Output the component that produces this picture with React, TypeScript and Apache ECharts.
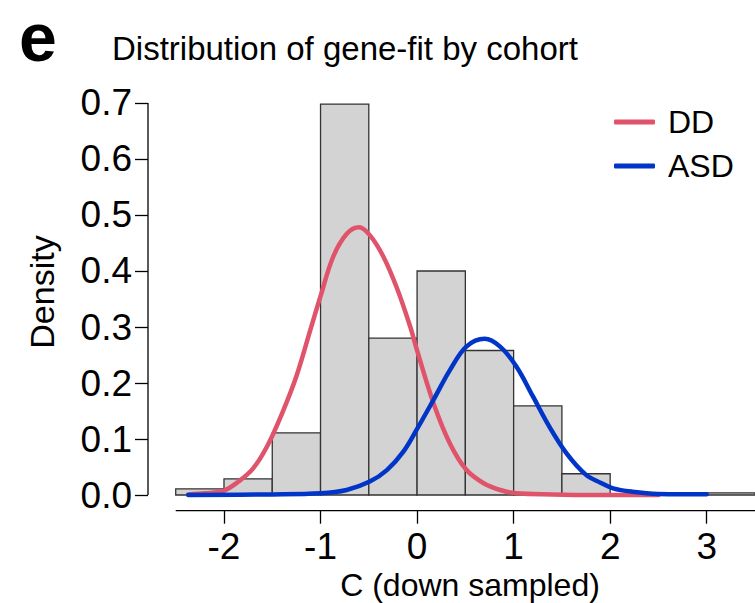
import React, { useEffect, useRef } from "react";
import * as echarts from "echarts";

// Histogram bins (left edges, width 0.5) and densities
const binStarts = [-2.5, -2, -1.5, -1, -0.5, 0, 0.5, 1, 1.5, 2, 2.5, 3];
const binWidth = 0.5;
const binDensity = [0.011, 0.029, 0.111, 0.698, 0.28, 0.4, 0.258, 0.159, 0.038, 0, 0, 0.004];

// DD density curve
const ddX = [-2.37, -2.2, -2.0, -1.85, -1.7, -1.55, -1.4, -1.25, -1.1, -1.0, -0.87, -0.73, -0.6, -0.49, -0.35, -0.21, -0.07, 0.0, 0.17, 0.34, 0.51, 0.69, 0.86, 1.03, 1.4, 1.8, 2.2, 2.5];
const ddY = [0.001, 0.003, 0.008, 0.024, 0.047, 0.088, 0.145, 0.212, 0.298, 0.355, 0.425, 0.466, 0.478, 0.464, 0.426, 0.37, 0.3, 0.258, 0.164, 0.092, 0.045, 0.021, 0.009, 0.003, 0.001, 0, 0, 0];

// ASD density curve
const asdX = [-2.37, -1.5, -1.0, -0.73, -0.49, -0.31, -0.14, 0.0, 0.17, 0.34, 0.51, 0.7, 0.86, 1.03, 1.2, 1.37, 1.55, 1.75, 1.9, 2.03, 2.23, 2.5, 2.75, 3.0];
const asdY = [0.0, 0.001, 0.003, 0.009, 0.024, 0.045, 0.078, 0.118, 0.17, 0.223, 0.265, 0.279, 0.265, 0.229, 0.176, 0.122, 0.074, 0.036, 0.022, 0.012, 0.006, 0.002, 0.0015, 0.0015];

const xTicks = [-2, -1, 0, 1, 2, 3];
const yTicks = [0, 0.1, 0.2, 0.3, 0.4, 0.5, 0.6, 0.7];
const xAxisSpan = [-2.5, 3.5];
const yAxisSpan = [0, 0.7];

const X_MIN = -2.787;
const X_MAX = 3.5;
const Y_MIN = -0.028;
const Y_MAX = 0.728;

const FONT = "'Liberation Sans', Arial, Helvetica, sans-serif";
const RED = "#DF536B";
const BLUE = "#0035C8";
const TICK_FONT = 37;

export default function App() {
  const ref = useRef<HTMLDivElement>(null);
  useEffect(() => {
    if (!ref.current) return;
    const chart = echarts.init(ref.current, undefined, { renderer: "svg" });
    const histData = binStarts.map((s, i) => [s, s + binWidth, binDensity[i]]);
    chart.setOption({
      animation: false,
      backgroundColor: "#ffffff",
      textStyle: { fontFamily: FONT },
      grid: { left: 148, right: 0, top: 87.3, bottom: 92.3, containLabel: false },
      xAxis: {
        type: "value",
        min: X_MIN,
        max: X_MAX,
        axisLine: { show: false, onZero: false },
        splitLine: { show: false },
        axisTick: {
          show: true,
          customValues: xTicks,
          length: 13,
          lineStyle: { color: "#000", width: 1.3 },
        },
        axisLabel: {
          customValues: xTicks,
          fontSize: TICK_FONT,
          lineHeight: 30,
          color: "#000",
          fontFamily: FONT,
          margin: 21,
          formatter: (v: number) => String(v),
        },
      },
      yAxis: {
        type: "value",
        min: Y_MIN,
        max: Y_MAX,
        axisLine: { show: false, onZero: false },
        splitLine: { show: false },
        axisTick: {
          show: true,
          customValues: yTicks,
          length: 13,
          lineStyle: { color: "#000", width: 1.3 },
        },
        axisLabel: {
          customValues: yTicks,
          fontSize: TICK_FONT,
          lineHeight: 30,
          color: "#000",
          fontFamily: FONT,
          margin: 16,
          formatter: (v: number) => v.toFixed(1),
        },
      },
      legend: {
        orient: "vertical",
        left: 614,
        top: 106,
        itemWidth: 41,
        itemHeight: 5,
        itemGap: 12,
        icon: "roundRect",
        padding: 0,
        data: ["DD", "ASD"],
        textStyle: { fontSize: 32, color: "#000", fontFamily: FONT, lineHeight: 32, padding: [0, 0, 0, 8] },
      },
      graphic: [
        {
          type: "text",
          x: 19,
          y: 37,
          style: { text: "e", fontSize: 68, fontWeight: "bold", fontFamily: FONT, fill: "#000", verticalAlign: "middle" },
        },
        {
          type: "text",
          x: 112,
          y: 48,
          style: { text: "Distribution of gene-fit by cohort", fontSize: 33, fontFamily: FONT, fill: "#000", verticalAlign: "middle" },
        },
        {
          type: "text",
          x: 470,
          y: 585,
          style: { text: "C (down sampled)", fontSize: 32, lineHeight: 30, fontFamily: FONT, fill: "#000", align: "center", verticalAlign: "middle" },
        },
        {
          type: "text",
          x: 42,
          y: 292,
          rotation: Math.PI / 2,
          style: { text: "Density", fontSize: 34, fontFamily: FONT, fill: "#000", align: "center", verticalAlign: "middle" },
        },
      ],
      series: [
        {
          type: "custom",
          name: "hist",
          silent: true,
          clip: false,
          encode: { x: [0, 1], y: 2 },
          data: histData,
          renderItem: (params: any, api: any) => {
            const p0 = api.coord([api.value(0), api.value(2)]);
            const p1 = api.coord([api.value(1), 0]);
            return {
              type: "rect",
              shape: { x: p0[0], y: p0[1], width: p1[0] - p0[0], height: p1[1] - p0[1] },
              style: { fill: "#D3D3D3", stroke: "#333333", lineWidth: 1.3 },
            };
          },
          z: 1,
        },
        {
          type: "line",
          name: "xAxisLine",
          silent: true,
          clip: false,
          symbol: "none",
          data: [[xAxisSpan[0], Y_MIN], [xAxisSpan[1], Y_MIN]],
          lineStyle: { color: "#000", width: 1.3 },
          z: 1,
        },
        {
          type: "line",
          name: "yAxisLine",
          silent: true,
          clip: false,
          symbol: "none",
          data: [[X_MIN, yAxisSpan[0]], [X_MIN, yAxisSpan[1]]],
          lineStyle: { color: "#000", width: 1.3 },
          z: 1,
        },
        {
          type: "line",
          name: "DD",
          color: RED,
          symbol: "none",
          smooth: 0.35,
          clip: false,
          data: ddX.map((x, i) => [x, ddY[i]]),
          lineStyle: { color: RED, width: 4.5, cap: "round" },
          z: 3,
        },
        {
          type: "line",
          name: "ASD",
          color: BLUE,
          symbol: "none",
          smooth: 0.35,
          clip: false,
          data: asdX.map((x, i) => [x, asdY[i]]),
          lineStyle: { color: BLUE, width: 4.5, cap: "round" },
          z: 4,
        },
      ],
    });
    return () => chart.dispose();
  }, []);
  return <div ref={ref} style={{ position: "fixed", left: 0, top: 0, width: 755, height: 603 }} />;
}
